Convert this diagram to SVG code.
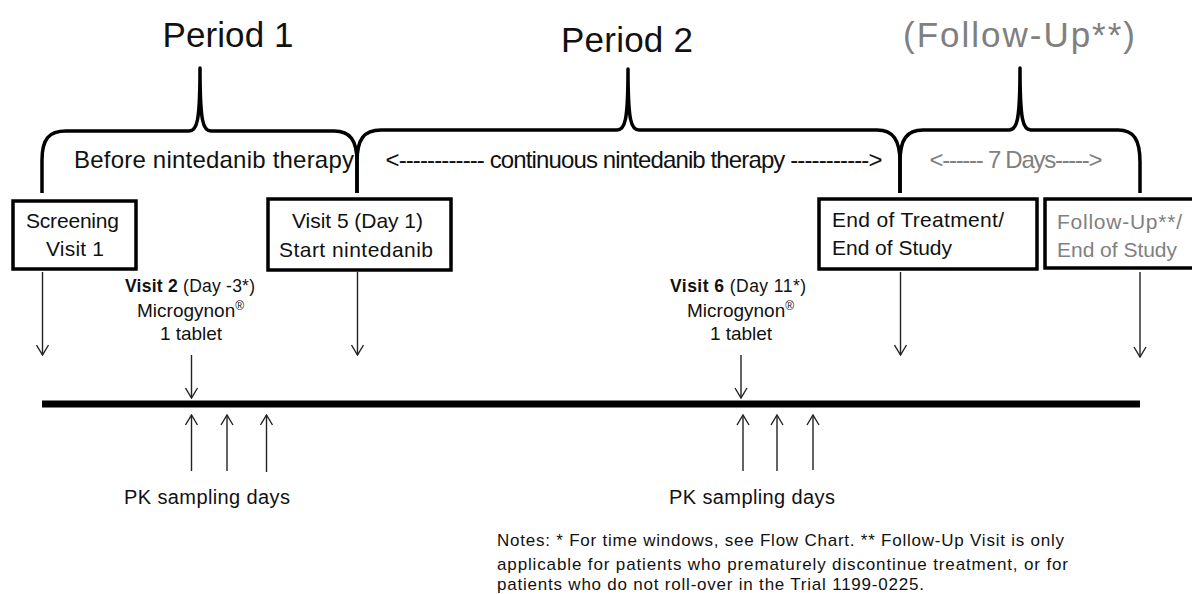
<svg xmlns="http://www.w3.org/2000/svg" width="1192" height="594" viewBox="0 0 1192 594">
<style>
text{font-family:"Liberation Sans",Arial,sans-serif;fill:#111}
.gray{fill:#808080}
.period{font-size:35px}
.sub{font-size:24px}
.box{fill:#fff;stroke:#000;stroke-width:3.5}
.bt{font-size:21px}
.vt{font-size:17.5px}
.mg{font-size:19px}
.pk{font-size:20px}
.note{font-size:17px}
.brace{fill:none;stroke:#000;stroke-width:3.5;stroke-linejoin:round}
.arr{fill:none;stroke:#222;stroke-width:1.4;marker-end:url(#ah)}
</style>
<defs>
<marker id="ah" viewBox="0 0 12 14" refX="11" refY="7" markerWidth="12" markerHeight="14" markerUnits="userSpaceOnUse" orient="auto">
<path d="M1,1 L11,7 L1,13" fill="none" stroke="#222" stroke-width="1.4"/>
</marker>
</defs>
<rect width="1192" height="594" fill="#fff"/>

<g id="titles">
<text class="period" x="228" y="47" text-anchor="middle" textLength="131">Period 1</text>
<text class="period" x="627" y="52" text-anchor="middle" textLength="132">Period 2</text>
<text class="period gray" x="1019" y="47" text-anchor="middle" textLength="232">(Follow-Up**)</text>
</g>

<g id="braces">
<path class="brace" d="M42,193 V160 C42,139 49,131 66,131 H189 C197,131 200,122 200,68 C200,122 203,131 211,131 H334 C350,131 357,140 357,162 V193"/>
<path class="brace" d="M357,193 V162 C357,139 364,130 381,130 H617 C625,130 628,121 628,69 C628,121 631,130 639,130 H877 C893,130 900,140 900,162 V193"/>
<path class="brace" d="M900,193 V162 C900,139 907,130 923,130 H1009 C1017,130 1020,121 1020,68 C1020,121 1023,130 1031,130 H1118 C1134,130 1140,140 1140,162 V193"/>
</g>

<g id="phase-labels">
<text class="sub" x="214" y="168" text-anchor="middle" textLength="280">Before nintedanib therapy</text>
<text class="sub" x="634" y="168" text-anchor="middle" textLength="497">&lt;------------ continuous nintedanib therapy -----------&gt;</text>
<text class="sub gray" x="1016" y="168" text-anchor="middle" textLength="173">&lt;------ 7 Days-----&gt;</text>
</g>

<g id="node-screening">
<rect class="box" x="13" y="201" width="123" height="68"/>
<text class="bt" x="72.5" y="228" text-anchor="middle" textLength="93">Screening</text>
<text class="bt" x="75" y="256" text-anchor="middle" textLength="58">Visit 1</text>
</g>

<g id="node-visit5">
<rect class="box" x="268" y="199" width="183" height="71"/>
<text class="bt" x="357.5" y="228" text-anchor="middle" textLength="131">Visit 5 (Day 1)</text>
<text class="bt" x="356" y="257" text-anchor="middle" textLength="154">Start nintedanib</text>
</g>

<g id="node-eot">
<rect class="box" x="819" y="199" width="218" height="70"/>
<text class="bt" x="832" y="227" textLength="172">End of Treatment/</text>
<text class="bt" x="832" y="255" textLength="120">End of Study</text>
</g>

<g id="node-followup">
<rect class="box" x="1045" y="199" width="160" height="69"/>
<text class="bt gray" x="1057" y="229" textLength="125">Follow-Up**/</text>
<text class="bt gray" x="1057" y="257" textLength="120">End of Study</text>
</g>

<g id="node-visit2">
<text class="vt" x="190" y="292" text-anchor="middle" textLength="130"><tspan font-weight="bold">Visit 2</tspan> (Day -3*)</text>
<text class="mg" x="137" y="317">Microgynon<tspan dy="-7" font-size="12">®</tspan></text>
<text class="mg" x="191" y="340" text-anchor="middle" textLength="62">1 tablet</text>
</g>

<g id="node-visit6">
<text class="vt" x="738" y="292" text-anchor="middle" textLength="136"><tspan font-weight="bold">Visit 6</tspan> (Day 11*)</text>
<text class="mg" x="687" y="317">Microgynon<tspan dy="-7" font-size="12">®</tspan></text>
<text class="mg" x="741" y="340" text-anchor="middle" textLength="62">1 tablet</text>
</g>

<g id="timeline">
<rect x="42" y="400.5" width="1098" height="7" fill="#000"/>
</g>

<g id="connectors">
<line class="arr" x1="42.5" y1="272" x2="42.5" y2="355"/>
<line class="arr" x1="357.5" y1="272" x2="357.5" y2="355"/>
<line class="arr" x1="900.5" y1="272" x2="900.5" y2="355"/>
<line class="arr" x1="1140" y1="272" x2="1140" y2="357"/>
<line class="arr" x1="191.5" y1="355" x2="191.5" y2="398"/>
<line class="arr" x1="741" y1="355" x2="741" y2="398"/>
<line class="arr" x1="191.5" y1="471" x2="191.5" y2="415"/>
<line class="arr" x1="227" y1="471" x2="227" y2="415"/>
<line class="arr" x1="266.5" y1="472" x2="266.5" y2="415"/>
<line class="arr" x1="743" y1="471" x2="743" y2="415"/>
<line class="arr" x1="777" y1="471" x2="777" y2="415"/>
<line class="arr" x1="813" y1="470" x2="813" y2="415"/>
</g>

<g id="pk-labels">
<text class="pk" x="207" y="504" text-anchor="middle" textLength="166">PK sampling days</text>
<text class="pk" x="752" y="504" text-anchor="middle" textLength="166">PK sampling days</text>
</g>

<g id="notes">
<text class="note" x="497" y="546" textLength="567">Notes: * For time windows, see Flow Chart. ** Follow-Up Visit is only</text>
<text class="note" x="497" y="570" textLength="571">applicable for patients who prematurely discontinue treatment, or for</text>
<text class="note" x="497" y="590" textLength="427">patients who do not roll-over in the Trial 1199-0225.</text>
</g>
</svg>
